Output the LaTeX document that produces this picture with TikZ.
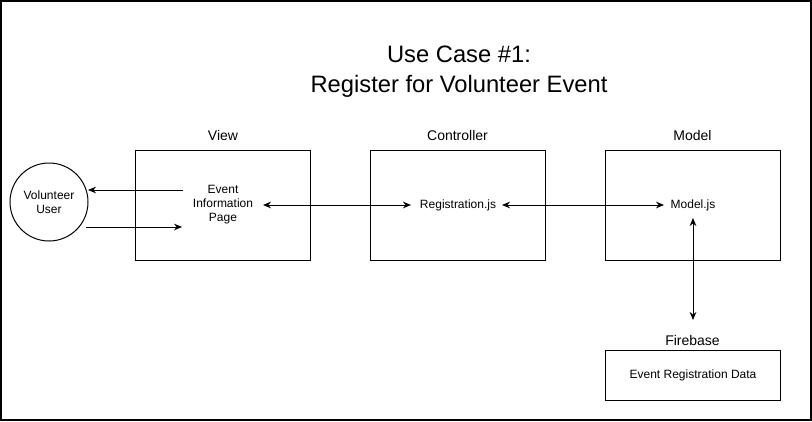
\documentclass[tikz,border=0pt]{standalone}
\usepackage{fontspec}
\setmainfont{Liberation Sans}
\usetikzlibrary{arrows.meta}
\begin{document}
\begin{tikzpicture}[x=0.75pt,y=-0.75pt,
  box/.style={draw,line width=0.75pt,minimum width=131.25pt,minimum height=82.5pt,inner sep=0pt},
  dbbox/.style={draw,line width=0.75pt,minimum width=131.25pt,minimum height=37.5pt,inner sep=0pt},
  inner/.style={font=\fontsize{9}{10.5}\selectfont,align=center,inner sep=0pt},
  lbl/.style={font=\fontsize{10.5}{12}\selectfont,inner sep=0pt},
  title/.style={font=\fontsize{17.8}{22.5}\selectfont,align=center,inner sep=0pt},
  actor/.style={draw,circle,line width=0.75pt,minimum size=58.5pt,inner sep=0pt,font=\fontsize{9}{10.5}\selectfont,align=center},
  arr/.style={line width=0.75pt,-{Stealth[length=6pt,width=5pt]}},
  darr/.style={line width=0.75pt,{Stealth[length=6pt,width=5pt]}-{Stealth[length=6pt,width=5pt]}}]
\useasboundingbox (0,0) rectangle (812,421);
\draw[line width=1.5pt] (1,1) rectangle (810.5,419.5);
\node[title] (ttl) at (459,72) {Use Case \#1:\\Register for Volunteer Event};
\node[box] (view) at (223,205) {};
\node[box] (ctrl) at (457.5,205) {};
\node[box] (model) at (692.5,205) {};
\node[dbbox] (fb) at (692.5,375) {};
\node[lbl] (lview) at (223,135) {View};
\node[lbl] (lctrl) at (457.5,135) {Controller};
\node[lbl] (lmodel) at (692.5,135) {Model};
\node[lbl] (lfb) at (692.5,340) {Firebase};
\node[actor] (user) at (49,202) {Volunteer\\User};
\node[inner] (evt) at (223,205) {Event\\Information\\Page};
\node[inner] (reg) at (458,205) {Registration.js};
\node[inner] (mjs) at (693,205) {Model.js};
\node[inner] (erd) at (693,375) {Event Registration Data};
\coordinate (a1s) at (183,190);
\coordinate (a1e) at (88,190);
\coordinate (a2s) at (86,227);
\coordinate (a2e) at (182,227);
\coordinate (m1) at (263,205);
\coordinate (m2) at (411,205);
\coordinate (m3) at (502,205);
\coordinate (m4) at (664,205);
\coordinate (v1) at (693,218);
\coordinate (v2) at (693,320);
\draw[arr] (a1s) -- (a1e);
\draw[arr] (a2s) -- (a2e);
\draw[darr] (m1) -- (m2);
\draw[darr] (m3) -- (m4);
\draw[darr] (v1) -- (v2);
\end{tikzpicture}
\end{document}
